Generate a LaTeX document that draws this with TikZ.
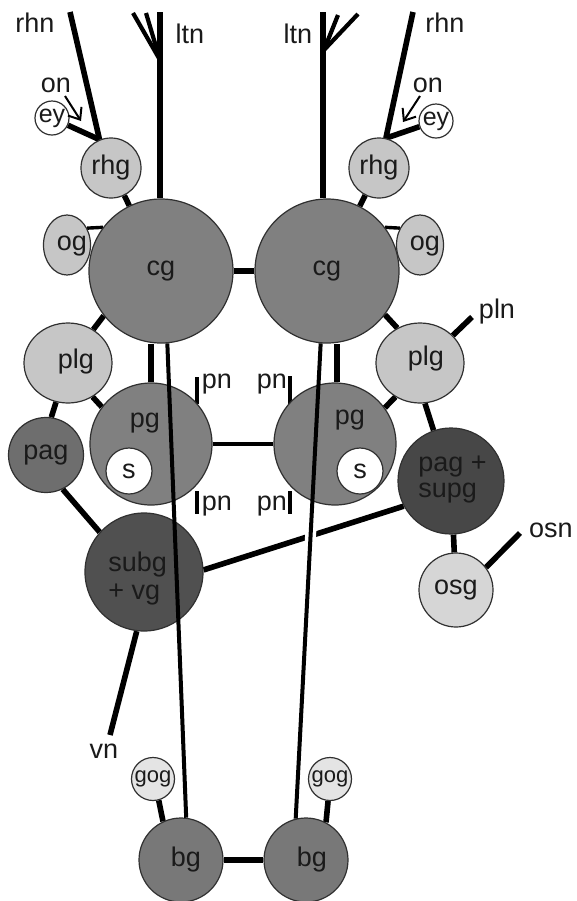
\documentclass[tikz,border=0pt]{standalone}
\usepackage{fontspec}
\setmainfont{Liberation Sans}
\usetikzlibrary{shapes.geometric,arrows.meta,calc,intersections}
\pgfdeclarelayer{back}
\pgfsetlayers{back,main}
\definecolor{cgc}{HTML}{808080}
\definecolor{pagc}{HTML}{6E6E6E}
\definecolor{bgc}{HTML}{787878}
\definecolor{subgc}{HTML}{505050}
\definecolor{pagsc}{HTML}{474747}
\definecolor{lightc}{HTML}{C6C6C6}
\definecolor{osgc}{HTML}{D6D6D6}
\definecolor{gogc}{HTML}{E4E4E4}
\definecolor{rim}{HTML}{303030}
\definecolor{ink}{HTML}{1A1A1A}
\begin{document}
\begin{tikzpicture}[x=0.5pt,y=-0.5pt,
  txt/.style={inner sep=0pt, text=ink, font=\fontsize{13.5}{14}\selectfont},
  gang/.style={circle, draw=rim, line width=0.6pt, inner sep=0pt, text=ink, font=\fontsize{13.5}{14}\selectfont},
  ogshape/.style={ellipse, draw=rim, line width=0.6pt, inner sep=0pt, fill=lightc, minimum width=23.5pt, minimum height=30pt},
  plgshape/.style={ellipse, draw=rim, line width=0.6pt, inner sep=0pt, fill=lightc, minimum width=44pt, minimum height=40pt},
  eyshape/.style={gang, fill=white, minimum size=17pt, font=\fontsize{12.5}{13}\selectfont},
  gogshape/.style={gang, fill=gogc, minimum size=21.5pt, font=\fontsize{11}{12}\selectfont},
  thk/.style={line width=2.8pt, draw=black},
  midl/.style={line width=2.1pt, draw=black},
  thinl/.style={line width=1.7pt, draw=black},
  longl/.style={line width=2pt, draw=black},
  arr/.style={line width=1pt, draw=black, -{Straight Barb[length=5pt,width=8pt,line width=1pt]}}
]
\useasboundingbox (0,0) rectangle (577,901);
\begin{pgfonlayer}{back}
\fill[white] (0,0) rectangle (577,901);
\end{pgfonlayer}

% ---------- nodes ----------
\node[gang, fill=cgc, minimum size=72pt] (cgL) at (161,271) {cg};
\node[gang, fill=cgc, minimum size=72pt] (cgR) at (327,271) {cg};
\node[gang, fill=cgc, minimum size=61pt] (pgL) at (151,444) {};
\node[gang, fill=cgc, minimum size=61pt] (pgR) at (335,444) {};
\node[txt, anchor=base] (pgLt) at (145,427) {pg};
\node[txt, anchor=base] (pgRt) at (350,424) {pg};
\node[gang, fill=white, minimum size=23pt] (sL) at (129,471) {s};
\node[gang, fill=white, minimum size=23pt] (sR) at (360,471) {s};
\node[gang, fill=lightc, minimum size=30pt] (rhgL) at (111,168) {rhg};
\node[gang, fill=lightc, minimum size=30pt] (rhgR) at (379,168) {rhg};
\node[eyshape] (eyL) at (52,118) {ey};
\node[eyshape] (eyR) at (436,121) {ey};
\node[ogshape] (ogL) at (67,245) {};
\node[ogshape] (ogR) at (420,245) {};
\node[txt, anchor=base] (ogLt) at (72,250) {og};
\node[txt, anchor=base] (ogRt) at (425,250) {og};
\node[plgshape] (plgL) at (68,363) {};
\node[plgshape] (plgR) at (420,363) {};
\node[txt, anchor=base] (plgLt) at (76,368) {plg};
\node[txt, anchor=base] (plgRt) at (426,365) {plg};
\node[gang, fill=pagc, minimum size=37.5pt] (pagL) at (46,455) {pag};
\node[gang, fill=subgc, minimum size=59pt] (subg) at (144,572) {};
\node[txt, anchor=base west] (subgt1) at (108,571) {subg};
\node[txt, anchor=base west] (subgt2) at (108,599) {+ vg};
\node[gang, fill=pagsc, minimum size=53pt] (pags) at (451,481) {};
\node[txt, anchor=base west] (pagst1) at (418,471) {pag +};
\node[txt, anchor=base west] (pagst2) at (418,497) {supg};
\node[gang, fill=osgc, minimum size=37pt] (osg) at (456,590) {osg};
\node[gogshape] (gogL) at (153,779) {gog};
\node[gogshape] (gogR) at (330,779) {gog};
\node[gang, fill=bgc, minimum size=42pt] (bgL) at (181,860) {};
\node[gang, fill=bgc, minimum size=42pt] (bgR) at (306,860) {};
\node[txt, anchor=base] (bgLt) at (186,866) {bg};
\node[txt, anchor=base] (bgRt) at (312,866) {bg};

% outer labels
\node[txt, anchor=base] (rhnLl) at (35,32) {rhn};
\node[txt, anchor=base] (rhnRl) at (445,32) {rhn};
\node[txt, anchor=base] (ltnLl) at (190,43) {ltn};
\node[txt, anchor=base] (ltnRl) at (298,43) {ltn};
\node[txt, anchor=base] (onLl) at (56,92) {on};
\node[txt, anchor=base] (onRl) at (428,92) {on};
\node[txt, anchor=base] (plnl) at (497,318) {pln};
\node[txt, anchor=base] (osnl) at (551,537) {osn};
\node[txt, anchor=base] (vnl) at (104,758) {vn};
\node[txt, anchor=base] (pn1) at (217,388) {pn};
\node[txt, anchor=base] (pn2) at (272,388) {pn};
\node[txt, anchor=base] (pn3) at (217,510) {pn};
\node[txt, anchor=base] (pn4) at (272,510) {pn};

% free end points
\coordinate (rhnLtop) at (70,12);
\coordinate (rhnRtop) at (413,12);
\coordinate (ltnLtop) at (160,12);
\coordinate (ltnLfork) at (160,60);
\coordinate (ltnLb1) at (133,13);
\coordinate (ltnLb2) at (146,13);
\coordinate (ltnRtop) at (323,12);
\coordinate (ltnRfork) at (324,50);
\coordinate (ltnRb1) at (338,15);
\coordinate (ltnRb2) at (358,14);
\coordinate (onLs) at (65,96);
\coordinate (onLe) at (81,121);
\coordinate (onRs) at (420,96);
\coordinate (onRe) at (403,122);
\coordinate (plnend) at (472,317);
\coordinate (osnend) at (520,533);
\coordinate (vnend) at (110,735);
\coordinate (pnLt1) at (197,377);
\coordinate (pnLt2) at (197,404);
\coordinate (pnLb1) at (197,491);
\coordinate (pnLb2) at (197,514);
\coordinate (pnRt1) at (290,376);
\coordinate (pnRt2) at (290,405);
\coordinate (pnRb1) at (290,491);
\coordinate (pnRb2) at (290,514);
\coordinate (jL) at (rhgL.112);
\coordinate (jR) at (rhgR.77);

% ---------- connectors ----------
\begin{pgfonlayer}{back}
\draw[thk] (cgL) -- (cgR);
\draw[midl] (pgL) -- (pgR);
\draw[thk] (bgL) -- (bgR);
\draw[thk] (pgL.north) -- (pgL.north |- cgL.south);
\draw[thk] ([xshift=1pt]pgR.north) -- ([xshift=1pt]pgR.north |- cgR.south);
\draw[thk] (rhgL) -- (cgL);
\draw[thk] (rhgR) -- (cgR);
\draw[thinl] (ogL.40) -- (cgL.143);
\draw[thinl] (ogR.140) -- (cgR.37);
\draw[thk] (plgL.53) -- (cgL.218);
\draw[thk] (cgR.-37) -- (plgR.123);
\draw[thk] (plgL.-54) -- (pgL.143);
\draw[thk] (pgR.36) -- (plgR.234);
\draw[thk] (pagL.82) -- (plgL.253);
\draw[thk] (pagL.-64) -- (subg.138);
\draw[thk] (plgR.-83) -- (pags.109);
\draw[thk] (pags) -- (osg);
\draw[thk] (osg.37) -- (osnend);
\draw[thk] (plgR.40) -- (plnend);
\draw[thk] (subg.-97) -- (vnend);
\draw[thk] (gogL.-75) -- (bgL.115);
\draw[thk] (gogR.-95) -- (bgR.62);
\draw[thk, name path=diag] (subg.2) -- (pags.208);
% top nerves
\draw[thk] (rhnLtop) -- (jL);
\draw[thk] (eyL) -- (jL);
\draw[thk] (rhnRtop) -- (jR);
\draw[thk] (eyR) -- (jR);
\draw[thk] (ltnLtop) -- (ltnLtop |- cgL.north);
\draw[midl] (ltnLfork) -- (ltnLb1);
\draw[midl] (ltnLfork) -- (ltnLb2);
\draw[thk] (ltnRtop) -- (ltnRtop |- cgR.north);
\draw[midl] (ltnRfork) -- (ltnRb1);
\draw[midl] (ltnRfork) -- (ltnRb2);
% pn bars
\draw[thinl] (pnLt1) -- (pnLt2);
\draw[thinl] (pnLb1) -- (pnLb2);
\draw[thinl] (pnRt1) -- (pnRt2);
\draw[thinl] (pnRb1) -- (pnRb2);
\end{pgfonlayer}

% arrows
\draw[arr] (onLs) -- (onLe);
\draw[arr] (onRs) -- (onRe);

% long connectives cg -> bg (drawn over ganglia)
\path[name path=longR] (cgR.-95) -- (bgR.104);
\path[name intersections={of=diag and longR, by=X}];
\draw[white, line width=5.5pt] ($(X)!5pt!(cgR.-95)$) -- ($(X)!5pt!(bgR.104)$);
\draw[longl] (cgL.-85) -- (bgL.83);
\draw[longl] (cgR.-95) -- (bgR.104);
\end{tikzpicture}
\end{document}
